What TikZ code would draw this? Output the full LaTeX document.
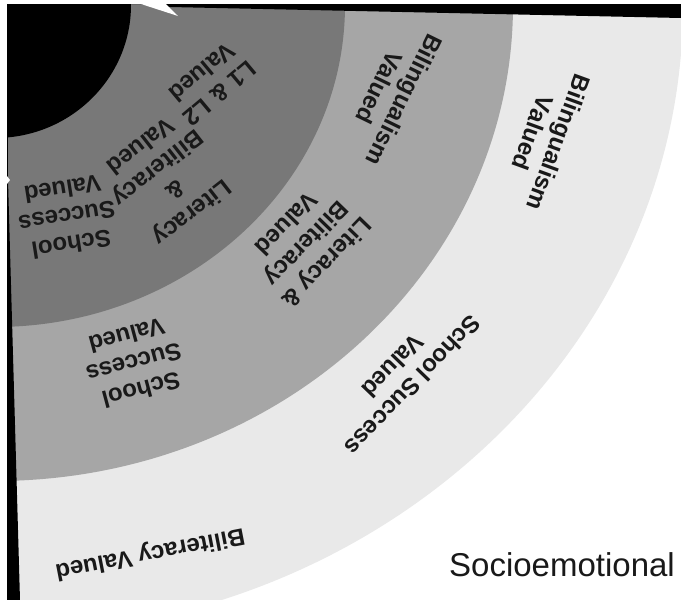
\documentclass[tikz,border=0pt]{standalone}
\usepackage{fontspec}
\setmainfont{Liberation Sans}
\definecolor{ringdark}{RGB}{120,120,120}
\definecolor{ringmid}{RGB}{166,166,166}
\definecolor{ringlight}{RGB}{233,233,233}
\definecolor{txt}{RGB}{25,25,25}
\tikzset{
  lbl/.style={font=\fontsize{24}{28}\selectfont\bfseries, align=center, inner sep=0pt, text=txt},
  biglbl/.style={font=\fontsize{33}{38}\selectfont, inner sep=0pt, text=txt}
}
\begin{document}
\begin{tikzpicture}[x=1pt,y=-1pt]
\useasboundingbox (0,0) rectangle (681,600);
\fill[white] (0,0) rectangle (681,600);
\begin{scope}
  \clip (7,4) rectangle (681,600);
  \fill[ringlight] (-5,5) ellipse [x radius=688pt, y radius=630pt];
  \fill[ringmid]   (-5,5) ellipse [x radius=518pt, y radius=476pt];
  \fill[ringdark]  (-5,5) ellipse [x radius=350pt, y radius=322pt];
  \fill[black]     (-5,5) ellipse [x radius=136pt, y radius=133pt];
\end{scope}
% black frame stripes
\fill[black] (7,4) -- (681,4) -- (681,18) -- (170,7) -- (140,4) -- cycle;
\fill[black] (7,4) -- (8,180) -- (20,600) -- (7,600) -- cycle;
% white slivers
\fill[white] (141,4) -- (166,4) -- (178,16) -- cycle;
\fill[white] (7,176) -- (10,180) -- (7,184) -- cycle;
% inner ring labels
\node[lbl, rotate=220] (a) at (211,83) {L1 \& L2\\Valued};
\node[lbl, rotate=218] (b) at (167,180) {Literacy\\\&\\Biliteracy\\Valued};
\node[lbl, rotate=189] (c) at (67,217) {School\\Success\\Valued};
% middle ring labels
\node[lbl, rotate=244] (d) at (392,94) {Bilingualism\\Valued};
\node[lbl, rotate=226] (e) at (307,244) {Literacy \&\\Biliteracy\\Valued};
\node[lbl, rotate=195] (f) at (134,363) {School\\Success\\Valued};
% outer ring labels
\node[lbl, rotate=250] (g) at (546,138) {Bilingualism\\Valued};
\node[lbl, rotate=226] (h) at (403,376) {School Success\\Valued};
\node[lbl, rotate=191] (i) at (150,553) {Biliteracy Valued};
% outside label
\node[biglbl] (s) at (562,565) {Socioemotional};
\end{tikzpicture}
\end{document}
